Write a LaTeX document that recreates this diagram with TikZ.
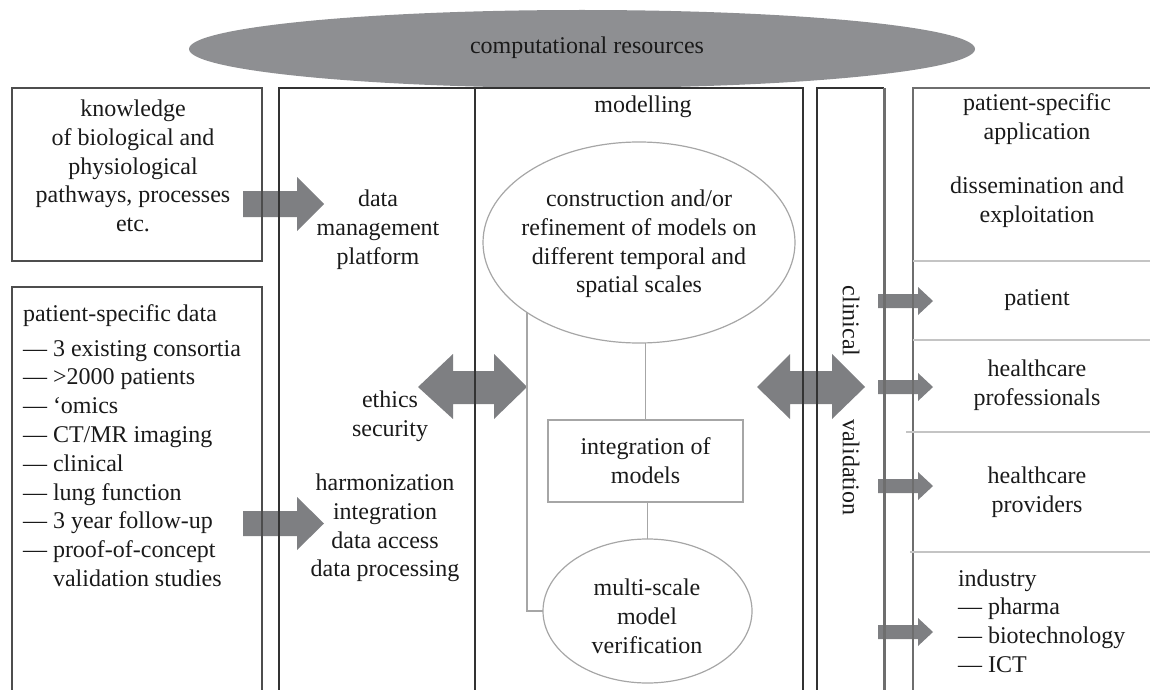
\documentclass[tikz,border=0pt]{standalone}
\usepackage{fontspec}
\setmainfont{Liberation Serif}
\usetikzlibrary{shapes.geometric}
\definecolor{ellfill}{HTML}{8E8F92}
\definecolor{arrfill}{HTML}{7E7F82}
\definecolor{darkline}{HTML}{333333}
\definecolor{boxline}{HTML}{4D4D4D}
\definecolor{midline}{HTML}{6E6E6E}
\definecolor{lightline}{HTML}{A6A6A6}
\definecolor{faintline}{HTML}{C4C4C4}
\definecolor{txt}{HTML}{1A1A1A}
\begin{document}
\begin{tikzpicture}[x=0.5pt,y=-0.5pt,
  every node/.style={font=\fontsize{12}{14.4}\selectfont, text=txt, inner sep=0pt, outer sep=0pt},
  lbl/.style={align=center},
  lst/.style={align=left},
  blk/.style={fill=arrfill},
  mainline/.style={draw=darkline, line width=0.8pt},
  frame/.style={draw=boxline, line width=0.7pt},
  appline/.style={draw=midline, line width=1pt},
  thinline/.style={draw=lightline, line width=0.6pt},
  sepline/.style={draw=faintline, line width=0.6pt},
]
\useasboundingbox (0,0) rectangle (1150,690);

% computational resources
\node[ellipse, fill=ellfill, minimum width=393pt, minimum height=39pt] (comp) at (582,49) {};
\node (comptxt) at (587,48) {computational resources};

% block arrows
\fill[blk] (243,191) -- (297,191) -- (297,177) -- (324,204) -- (297,231) -- (297,217) -- (243,217) -- cycle;
\fill[blk] (243,511) -- (297,511) -- (297,497) -- (324,523.5) -- (297,550) -- (297,536) -- (243,536) -- cycle;
\fill[blk] (418,387) -- (453,354) -- (453,371) -- (494,371) -- (494,354) -- (527,387) -- (494,419) -- (494,404) -- (453,404) -- (453,419) -- cycle;
\fill[blk] (757,387) -- (790,354) -- (790,371) -- (832,371) -- (832,354) -- (865,387) -- (832,419) -- (832,404) -- (790,404) -- (790,419) -- cycle;
\foreach \c in {301,387,486,632}{
  \fill[blk] (878,\c-7) -- (918,\c-7) -- (918,\c-14) -- (933,\c) -- (918,\c+14) -- (918,\c+7) -- (878,\c+7) -- cycle;
}

% frames
\node[frame, minimum width=125pt, minimum height=86.5pt] (know) at (137,174.5) {};
\draw[frame] (12,700) -- (12,287) -- (262,287) -- (262,700);
\draw[mainline] (279,700) -- (279,88) -- (803,88) -- (803,700);
\draw[mainline] (475,88) -- (475,700);
\draw[mainline] (817,700) -- (817,88) -- (884,88);
\draw[draw=midline, line width=1.5pt] (884,88) -- (884,700);
\draw[appline] (913,700) -- (913,88) -- (1152,88);
\draw[sepline] (913,261) -- (1152,261);
\draw[sepline] (913,340) -- (1152,340);
\draw[sepline] (906,432) -- (1152,432);
\draw[sepline] (910,552) -- (1152,552);

% modelling internals
\node[ellipse, thinline, minimum width=156pt, minimum height=100.5pt] (cons) at (639,242.5) {};
\node[lbl] (constxt) at (639,244) {construction and/or\\refinement of models on\\different temporal and\\spatial scales};
\node[rectangle, thinline, minimum width=97.5pt, minimum height=41pt, lbl] (integ) at (645.5,461) {integration of\\models};
\node[ellipse, thinline, minimum width=104.5pt, minimum height=72pt] (verif) at (647.5,611) {};
\node[lbl] (veriftxt) at (647,616) {multi-scale\\model\\verification};
\draw[thinline] (integ.north |- cons.south) -- (integ.north);
\draw[thinline] (verif.north |- integ.south) -- (verif.north);
\draw[thinline] (cons.212.8) |- (verif.west);

% texts
\node[lbl] (knowtxt) at (133,166) {knowledge\\of biological and\\physiological\\pathways, processes\\etc.};
\node[lst, anchor=west] (pdata) at (23,445.5) {patient-specific data\\[3pt]— 3 existing consortia\\— >2000 patients\\— ‘omics\\— CT/MR imaging\\— clinical\\— lung function\\— 3 year follow-up\\— proof-of-concept\\\hspace*{15pt}validation studies};
\node[lbl] (dmp) at (378,230) {data\\management\\platform};
\node[lbl] (eth) at (390,416) {ethics\\security};
\node[lbl] (harm) at (385,528) {harmonization\\integration\\data access\\data processing};
\node (modl) at (643,107) {modelling};
\node[rotate=-90] (clin) at (851,321) {clinical};
\node[rotate=-90] (valid) at (851,467) {validation};
\node[lbl] (psa) at (1037,119) {patient-specific\\application};
\node[lbl] (diss) at (1037,202.5) {dissemination and\\exploitation};
\node (pat) at (1037,300) {patient};
\node[lbl] (hcp) at (1037,385.5) {healthcare\\professionals};
\node[lbl] (hcpr) at (1037,492.5) {healthcare\\providers};
\node[lst, anchor=west] (ind) at (958,621) {industry\\— pharma\\— biotechnology\\— ICT};
\end{tikzpicture}
\end{document}
